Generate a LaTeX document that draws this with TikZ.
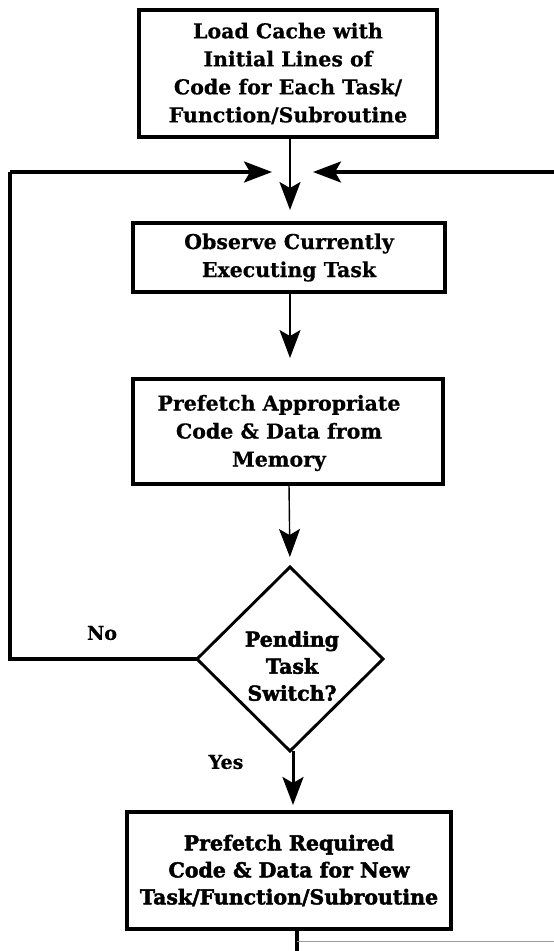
\documentclass[tikz,border=0pt]{standalone}
\usepackage{fontspec}
\setmainfont{DejaVu Serif}
\newfontfamily\heavyserif[BoldFeatures={FakeBold=2.2}]{DejaVu Serif}
\newfontfamily\plainserif[BoldFeatures={FakeBold=0.6}]{DejaVu Serif}
\usetikzlibrary{shapes.geometric,arrows.meta}

\begin{document}
\begin{tikzpicture}[x=1pt,y=-1pt,
  every node/.style={inner sep=0pt, outer sep=0pt},
  txt/.style={font=\plainserif\bfseries\fontsize{20.5}{28}\selectfont, align=center},
  heavytxt/.style={font=\heavyserif\bfseries\fontsize{20.5}{27}\selectfont, align=center},
  shapebox/.style={draw, line width=3.1pt, rectangle},
  tip/.style={-{Stealth[length=28pt,width=21pt,inset=6pt]}},
  flow/.style={line width=2.4pt, tip},
  thinflow/.style={line width=1.4pt, tip},
  loopline/.style={line width=3.3pt},
  lbl/.style={font=\plainserif\bfseries\fontsize{19}{24}\selectfont}
]
\useasboundingbox (0,0) rectangle (554,951);

% process steps
\node[shapebox, txt, minimum width=298pt, minimum height=127pt] (load) at (288,73.5)
  {Load Cache with\\Initial Lines of\\Code for Each Task/\\Function/Subroutine};
\node[shapebox, txt, minimum width=312pt, minimum height=69pt] (observe) at (289,257.5)
  {Observe Currently\\Executing Task};
\node[shapebox, minimum width=310pt, minimum height=105pt] (prefetch) at (288,431.5) {};
\node[txt] (prefetchtxt) at (279,433) {Prefetch Appropriate\\Code \& Data from\\Memory};
\node[draw, line width=2.9pt, diamond, minimum width=186pt, minimum height=184pt] (pending) at (290,659) {};
\node[heavytxt] (pendingtxt) at (292,666) {Pending\\Task\\Switch?};
\node[shapebox, heavytxt, minimum width=324pt, minimum height=117pt] (required) at (289,870.5)
  {Prefetch Required\\Code \& Data for New\\Task/Function/Subroutine};

% branch labels
\node[lbl] (nolbl) at (102,633) {No};
\node[lbl] (yeslbl) at (226,762) {Yes};

% junction points of the loop
\coordinate (corner) at (10,172);
\coordinate (ltip) at (272,172);
\coordinate (rin) at (554,172);
\coordinate (rtip) at (313,172);
\coordinate (bottom) at (297,951);
\coordinate (bcorner) at (297,941);
\coordinate (bright) at (554,941);

% main flow
\draw[flow, shorten >=13pt] (load.south -| 290,0) -- (observe.north -| 290,0);
\draw[thinflow, shorten >=21pt] (observe.south -| 290,0) -- (prefetch.north -| 290,0);
\draw[thinflow, shorten >=10pt] (prefetch.south -| 289,0) -- (pending.north);
\draw[line width=3pt, tip, shorten >=7pt]
  (pending.south -| 293,0) -- (required.north -| 293,0);

% "No" loop back to the top
\draw[loopline] (pending.west) -| (corner);
\draw[loopline, tip] (corner) -- (ltip);
\draw[loopline, tip] (rin) -- (rtip);

% exit at the bottom
\draw[loopline] (required.south -| 297,0) -- (bottom);
\draw[line width=0.9pt, black!40] (bcorner) -- (bright);
\end{tikzpicture}
\end{document}
